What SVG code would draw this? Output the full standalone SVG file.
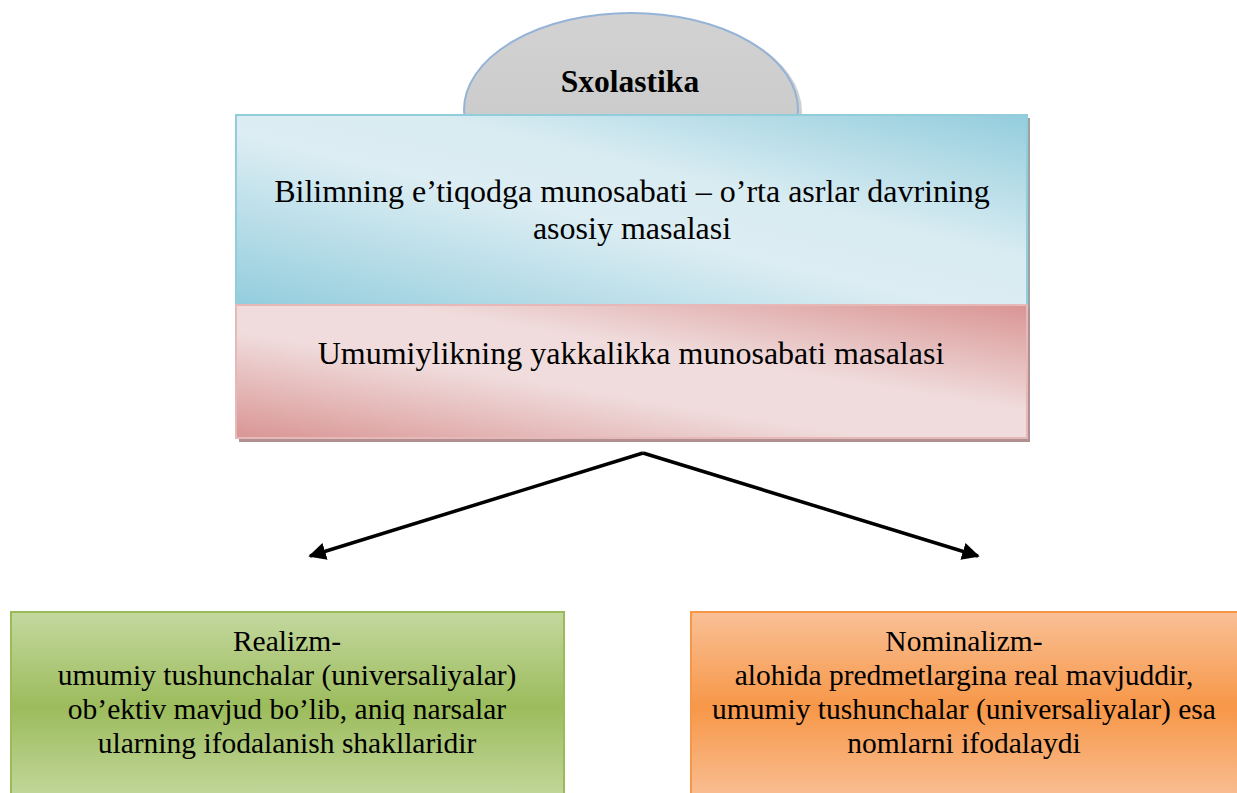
<svg xmlns="http://www.w3.org/2000/svg" width="1237" height="793" viewBox="0 0 1237 793">
<defs>
<linearGradient id="gBlue" x1="0" y1="1" x2="1" y2="0">
<stop offset="0" stop-color="#93cddd"/>
<stop offset="0.45" stop-color="#dcedf3"/>
<stop offset="0.62" stop-color="#d9ecf2"/>
<stop offset="1" stop-color="#93cddd"/>
</linearGradient>
<linearGradient id="gPink" x1="0" y1="1" x2="1" y2="0">
<stop offset="0" stop-color="#d99594"/>
<stop offset="0.4" stop-color="#f0dcdc"/>
<stop offset="0.6" stop-color="#f0dcdc"/>
<stop offset="1" stop-color="#d99594"/>
</linearGradient>
<linearGradient id="gGreen" x1="0" y1="0" x2="0" y2="1">
<stop offset="0" stop-color="#c4d89f"/>
<stop offset="0.5" stop-color="#9cbc5c"/>
<stop offset="1" stop-color="#c4d89f"/>
</linearGradient>
<linearGradient id="gOrange" x1="0" y1="0" x2="0" y2="1">
<stop offset="0" stop-color="#f9c096"/>
<stop offset="0.5" stop-color="#f79748"/>
<stop offset="1" stop-color="#f9c096"/>
</linearGradient>
<linearGradient id="gGray" x1="0" y1="0" x2="0" y2="1">
<stop offset="0" stop-color="#d2d2d2"/>
<stop offset="1" stop-color="#c6c6c6"/>
</linearGradient>
<marker id="arr" viewBox="0 0 10 10" refX="9" refY="5" markerWidth="5" markerHeight="5" orient="auto">
<path d="M0,0 L10,5 L0,10 Z" fill="#000"/>
</marker>
</defs>
<style>
.t{font-family:"Liberation Serif","Times New Roman",serif;fill:#000;text-anchor:middle}
.big{font-size:32px}
.mid{font-size:29.5px}
</style>
<g id="node-sxolastika">
<ellipse cx="634" cy="112" rx="168" ry="98" fill="#a0a0a0" opacity="0.5"/>
<ellipse cx="631" cy="110" rx="167" ry="97" fill="url(#gGray)" stroke="#95b3d7" stroke-width="2"/>
<text class="t" x="630" y="92" font-size="31.5" font-weight="bold">Sxolastika</text>
</g>
<g id="node-bilim">
<rect x="239" y="118" width="791" height="190" fill="#a0a0a0"/>
<rect x="236" y="115" width="791" height="190" fill="url(#gBlue)" stroke="#92cddc" stroke-width="2"/>
<text class="t big" x="632" y="202">Bilimning e’tiqodga munosabati – o’rta asrlar davrining</text>
<text class="t big" x="632" y="239">asosiy masalasi</text>
</g>
<g id="node-umumiy">
<rect x="239" y="308" width="791" height="134" fill="#b09090"/>
<rect x="236" y="305" width="791" height="133" fill="url(#gPink)" stroke="#e6b9b8" stroke-width="2"/>
<text class="t big" x="631" y="364">Umumiylikning yakkalikka munosabati masalasi</text>
</g>
<g id="connectors" stroke="#000" stroke-width="3.5" fill="none">
<line x1="643" y1="453" x2="310" y2="556" marker-end="url(#arr)"/>
<line x1="643" y1="453" x2="978" y2="556" marker-end="url(#arr)"/>
</g>
<g id="node-realizm">
<rect x="11" y="612" width="553" height="190" fill="url(#gGreen)" stroke="#9bbb59" stroke-width="2"/>
<text class="t mid" x="287" y="651">Realizm-</text>
<text class="t mid" x="287" y="685">umumiy tushunchalar (universaliyalar)</text>
<text class="t mid" x="287" y="719">ob’ektiv mavjud bo’lib, aniq narsalar</text>
<text class="t mid" x="287" y="753">ularning ifodalanish shakllaridir</text>
</g>
<g id="node-nominalizm">
<rect x="691" y="612" width="560" height="190" fill="url(#gOrange)" stroke="#f79646" stroke-width="2"/>
<text class="t mid" x="964" y="651">Nominalizm-</text>
<text class="t mid" x="964" y="685">alohida predmetlargina real mavjuddir,</text>
<text class="t mid" x="964" y="719">umumiy tushunchalar (universaliyalar) esa</text>
<text class="t mid" x="964" y="753">nomlarni ifodalaydi</text>
</g>
</svg>
